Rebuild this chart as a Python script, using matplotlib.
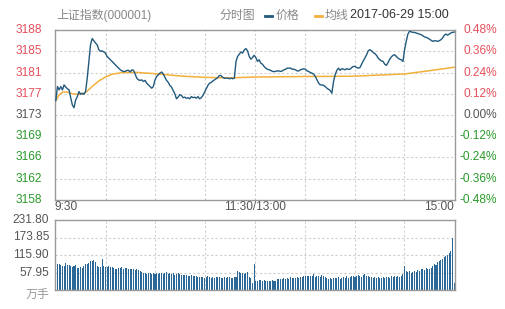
import matplotlib.pyplot as plt
import matplotlib.transforms as mtransforms
from matplotlib.lines import Line2D

plt.rcParams['font.family'] = ['Liberation Sans', 'Noto Sans CJK SC', 'DejaVu Sans']

# previous close of 上证指数 on 2017-06-28
prev_close = 3173.20

# minute prices 9:30 .. 11:30 / 13:00 .. 15:00 (242 points)
price = [
    3175.8, 3178.3, 3177.7, 3178.3, 3177.7, 3178.6, 3178.2, 3177.9, 3177.7, 3176.3,
    3175.0, 3174.5, 3175.9, 3176.5, 3177.4, 3176.9, 3177.1, 3176.9, 3177.4, 3179.8,
    3182.8, 3185.8, 3186.9, 3186.5, 3186.1, 3185.8, 3184.9, 3184.6, 3184.7, 3184.5,
    3184.3, 3183.7, 3183.4, 3183.1, 3182.8, 3182.5, 3182.2, 3181.9, 3181.6, 3181.3,
    3181.1, 3181.0, 3181.0, 3181.2, 3181.2, 3180.9, 3181.3, 3181.2, 3180.5, 3179.8,
    3179.5, 3179.4, 3179.5, 3179.2, 3179.4, 3178.9, 3178.6, 3178.3, 3178.0, 3178.3,
    3179.5,
    3180.1, 3180.4, 3180.7, 3180.9, 3180.55, 3179.95, 3179.4, 3179.05, 3178.5, 3178.2,
    3177.6, 3177.0, 3176.1, 3176.4, 3176.85, 3176.7, 3176.3, 3176.4, 3176.2, 3176.3,
    3176.1, 3176.5, 3176.3, 3176.4, 3176.2, 3176.5, 3176.1, 3176.3, 3176.7, 3177.3,
    3177.9, 3178.5, 3178.9, 3179.05, 3179.3, 3179.5, 3179.7, 3179.9, 3180.3, 3180.25,
    3179.95, 3179.8, 3179.8, 3179.8, 3179.7, 3179.8, 3179.7, 3179.8, 3182.8, 3183.7,
    3184.1, 3184.5, 3184.3, 3184.85, 3185.1, 3184.7, 3183.7, 3183.2, 3183.5, 3183.9,
    3183.5, 3182.8, 3183.1, 3182.5, 3182.3, 3181.9, 3181.6, 3181.4, 3181.3, 3181.2,
    3181.0, 3181.0, 3181.0, 3181.1, 3181.1, 3181.0, 3181.1, 3181.3, 3181.4, 3181.6,
    3181.6, 3181.6, 3181.4, 3181.4, 3181.3, 3181.1, 3181.1, 3181.3, 3181.4, 3181.5,
    3181.4, 3181.1, 3181.0, 3180.8, 3180.7, 3180.5, 3180.1, 3179.5, 3178.9, 3178.6,
    3178.6, 3178.5, 3178.3, 3178.0, 3177.8, 3177.6, 3177.1, 3179.2, 3180.4, 3181.2,
    3181.6, 3181.2, 3181.5, 3181.4, 3181.3, 3181.5, 3181.4, 3181.4, 3181.7, 3181.9,
    3181.9, 3181.7, 3181.6, 3181.7, 3182.3, 3182.9, 3183.4, 3184.0, 3184.7, 3184.9,
    3184.7, 3184.4, 3184.2, 3183.9, 3183.4, 3183.1, 3182.9, 3182.8, 3182.3, 3182.1,
    3182.6, 3183.2, 3183.6, 3183.9, 3184.0, 3183.7, 3183.4, 3183.2, 3183.1, 3182.8,
    3184.9, 3186.4, 3187.7, 3188.2, 3188.1, 3188.0, 3188.0, 3187.9, 3187.8, 3187.7,
    3187.6, 3187.4, 3187.2, 3187.1, 3187.0, 3186.8, 3186.6, 3186.4, 3186.5, 3186.5,
    3186.4, 3186.5, 3186.7, 3187.0, 3187.5, 3187.7, 3187.5, 3187.7, 3187.9, 3188.0,
    3188.06,
]

# average price line (均线), read at a few minutes
avg_idx = [0, 2, 4, 7, 10, 14, 17, 19, 22, 26, 30, 34, 40, 48, 60, 75, 90, 105,
           120, 150, 180, 195, 211, 225, 241]
avg_val = [3175.8, 3176.8, 3177.3, 3177.3, 3177.0, 3176.9, 3177.1, 3177.5, 3178.3,
           3179.3, 3180.0, 3180.5, 3180.8, 3180.85, 3180.6, 3180.2, 3179.95, 3179.85,
           3180.0, 3180.1, 3180.15, 3180.35, 3180.55, 3181.1, 3181.75]

# volume per minute, 万手
volume = [
    231.8, 86, 85, 82, 80, 78, 88, 84, 83, 80,
    76, 78, 83, 74, 72, 75, 73, 79, 86, 85,
    88, 97, 95, 99, 92, 79, 76, 77, 103, 78,
    76, 77, 78, 75, 76, 74, 71, 70, 74, 73,
    75, 70, 72, 74, 71, 69, 70, 68, 66, 69,
    65, 63, 58, 55, 56, 54, 57, 55, 53, 56,
    54, 55, 53, 57, 55, 52, 56, 58, 54, 55,
    53, 56, 51, 52, 55, 54, 50, 51, 49, 50,
    47, 48, 50, 46, 45, 47, 44, 43, 42, 44,
    41, 43, 45, 42, 40, 43, 41, 42, 44, 43,
    40, 41, 43, 40, 42, 44, 41, 39, 42, 43,
    64, 60, 55, 56, 52, 57, 58, 42, 40, 24,
    86, 30, 31, 32, 33, 31, 32, 30, 31, 29,
    30, 32, 29, 31, 35, 36, 38, 36, 39, 37,
    40, 38, 42, 39, 41, 40, 43, 41, 44, 42,
    45, 47, 46, 48, 47, 46, 52, 44, 45, 47,
    43, 50, 46, 42, 40, 38, 40, 37, 39, 41,
    40, 42, 38, 40, 44, 41, 46, 40, 43, 45,
    48, 44, 46, 49, 47, 44, 50, 53, 48, 45,
    42, 44, 41, 43, 40, 42, 39, 41, 44, 40,
    42, 43, 41, 45, 43, 46, 44, 45, 44, 47,
    52, 78, 64, 58, 62, 57, 60, 63, 61, 65,
    63, 70, 68, 66, 72, 70, 68, 74, 80, 86,
    84, 92, 95, 98, 104, 108, 112, 116, 122, 128,
    173, 22,
]

price_labels = ['3188', '3185', '3181', '3177', '3173', '3169', '3166', '3162', '3158']
pct_levels = [0.48, 0.36, 0.24, 0.12, 0.00, -0.12, -0.24, -0.36, -0.48]
vol_ticks = [231.80, 173.85, 115.90, 57.95]
x_labels = ['9:30', '11:30/13:00', '15:00']

RED = '#e5505a'
GREEN = '#2a9a2a'
GRAY = '#555555'
LINE = '#225a7e'
AVG = '#f2b03c'
BAR = '#2b6897'
GRID = '#cfcfcf'
FRAME = '#9a9a9a'
FS = 8.6

W, H = 506, 309
fig = plt.figure(figsize=(W / 100, H / 100), dpi=100)


def box(l, t, r, b):
    return [l / W, 1 - b / H, (r - l) / W, (b - t) / H]


ax = fig.add_axes(box(55, 30, 455, 200))
axv = fig.add_axes(box(55, 220, 455, 290))

n = len(price)
xs = list(range(n))
levels = [prev_close * (1 + p / 100) for p in pct_levels]
vgrid = [(n - 1) / 8 * k for k in range(1, 8)]

for a in (ax, axv):
    a.set_xlim(-0.5, n - 0.5)
    a.set_xticks([])
    a.set_yticks([])
    for s in a.spines.values():
        s.set_color(FRAME)
        s.set_linewidth(1)
    for gx in vgrid:
        a.axvline(gx, color=GRID, lw=0.8, ls=(0, (2, 2)), zorder=0)

# price panel
ax.set_ylim(levels[-1], levels[0])
for lv in levels[1:-1]:
    ax.axhline(lv, color=GRID, lw=0.8, ls=(0, (2, 2)), zorder=0)
ax.plot(avg_idx, avg_val, color=AVG, lw=1.1, zorder=2)
ax.plot(xs, price, color=LINE, lw=1.0, zorder=3)

trl = mtransforms.blended_transform_factory(fig.transFigure, ax.transData)
for lab, p, lv in zip(price_labels, pct_levels, levels):
    c = RED if p > 0 else (GREEN if p < 0 else GRAY)
    fig.text(42 / W, lv, lab, transform=trl, ha='right', va='center',
             color=c, fontsize=FS)
    fig.text(497 / W, lv, '%.2f%%' % p, transform=trl, ha='right', va='center',
             color=c, fontsize=FS)

# x labels
ty = 1 - 207 / H
fig.text(55 / W, ty, x_labels[0], ha='left', va='center', color=GRAY, fontsize=FS)
fig.text(255 / W, ty, x_labels[1], ha='center', va='center', color=GRAY, fontsize=FS)
fig.text(454 / W, ty, x_labels[2], ha='right', va='center', color=GRAY, fontsize=FS)

# volume panel
axv.set_ylim(0, vol_ticks[0])
for v in vol_ticks[1:]:
    axv.axhline(v, color=GRID, lw=0.8, ls=(0, (2, 2)), zorder=0)
axv.bar(xs, volume, width=0.62, color=BAR, zorder=2)
trv = mtransforms.blended_transform_factory(fig.transFigure, axv.transData)
for v in vol_ticks:
    fig.text(49 / W, v, '%.2f' % v, transform=trv, ha='right', va='center',
             color=GRAY, fontsize=FS)
fig.text(49 / W, 1 - 296 / H, '万手', ha='right', va='center', color='#999999',
         fontsize=FS)

# header
hy = 1 - 15.5 / H
fig.text(56 / W, hy, '上证指数(000001)', ha='left', va='center', color='#888888',
         fontsize=FS)
fig.text(220 / W, hy, '分时图', ha='left', va='center', color='#888888', fontsize=FS)
fig.add_artist(Line2D([265 / W, 272 / W], [hy, hy], color=LINE, lw=2,
                      transform=fig.transFigure))
fig.text(276 / W, hy, '价格', ha='left', va='center', color='#888888', fontsize=FS)
fig.add_artist(Line2D([315 / W, 322 / W], [hy, hy], color=AVG, lw=2,
                      transform=fig.transFigure))
fig.text(325 / W, hy, '均线', ha='left', va='center', color='#888888', fontsize=FS)
fig.text(350 / W, hy, '2017-06-29 15:00', ha='left', va='center', color='#333333',
         fontsize=9)

fig.savefig('out.png', dpi=100)
